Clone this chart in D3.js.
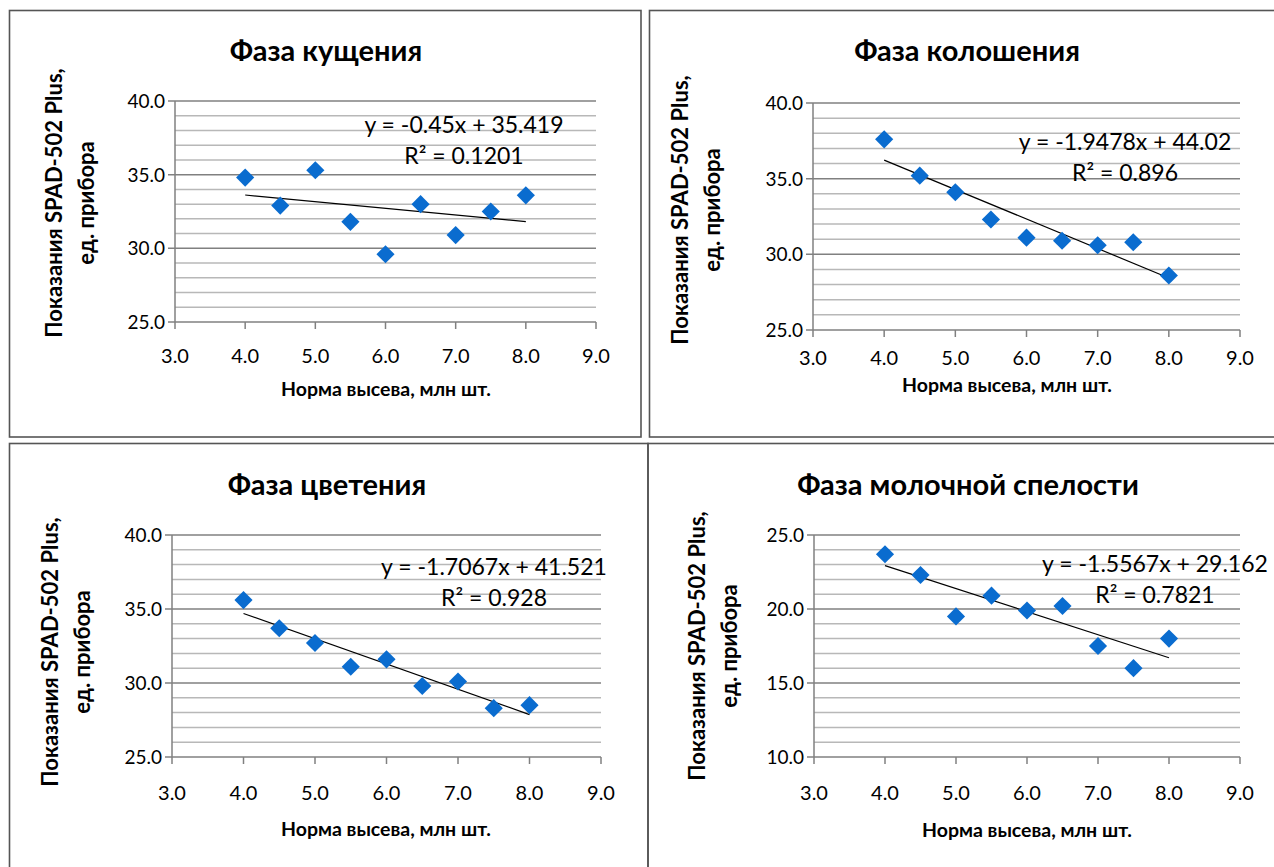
<!DOCTYPE html>
<html>
<head>
<meta charset="utf-8">
<script src="https://cdn.jsdelivr.net/npm/d3@7"></script>
<style>
  body { margin: 0; background: #fff; }
  text { font-family: Lato, "Open Sans", sans-serif; fill: #000; }
</style>
</head>
<body>
<div id="chart"></div>
<script>
const width = 1274
const height = 867

// данные
const rates = [4.0, 4.5, 5.0, 5.5, 6.0, 6.5, 7.0, 7.5, 8.0]
const tillering = [34.8, 32.9, 35.3, 31.8, 29.6, 33.0, 30.9, 32.5, 33.6]
const heading = [37.6, 35.2, 34.1, 32.3, 31.1, 30.9, 30.6, 30.8, 28.6]
const flowering = [35.6, 33.7, 32.7, 31.1, 31.6, 29.8, 30.1, 28.3, 28.5]
const milkRipeness = [23.7, 22.3, 19.5, 20.9, 19.9, 20.2, 17.5, 16.0, 18.0]

const titles = ["Фаза кущения", "Фаза колошения", "Фаза цветения", "Фаза молочной спелости"]
const slopes = [-0.45, -1.9478, -1.7067, -1.5567]
const intercepts = [35.419, 44.02, 41.521, 29.162]
const equations = ["y = -0.45x + 35.419", "y = -1.9478x + 44.02", "y = -1.7067x + 41.521", "y = -1.5567x + 29.162"]
const r2Labels = ["R² = 0.1201", "R² = 0.896", "R² = 0.928", "R² = 0.7821"]
const yDomains = [[25, 40], [25, 40], [25, 40], [10, 25]]
const xTicks = [3, 4, 5, 6, 7, 8, 9]

const yLabel1 = "Показания SPAD-502 Plus,"
const yLabel2 = "ед. прибора"
const xLabel = "Норма высева, млн шт."

const series = [tillering, heading, flowering, milkRipeness]

// раскладка панелей
const panels = [
  {box: [9.5, 10.5, 631.5, 426.5], x0: 175, x1: 596, yTop: 101, yBot: 322, tickDy: 41, titleX: 326, titleY: 61,
   eqX: 464, eqY: 133, ylX: 54, ylY: 203, xlX: 386, xlY: 396},
  {box: [649.5, 10.5, 640, 426.5], x0: 813, x1: 1240, yTop: 103, yBot: 330, tickDy: 35, titleX: 967, titleY: 61,
   eqX: 1125, eqY: 150, ylX: 680, ylY: 210, xlX: 1007, xlY: 392},
  {box: [9.5, 443.5, 638.5, 440], x0: 172, x1: 601, yTop: 535, yBot: 757, tickDy: 43, titleX: 327, titleY: 495,
   eqX: 494, eqY: 575, ylX: 50, ylY: 652, xlX: 386, xlY: 836},
  {box: [648, 443.5, 640, 440], x0: 814, x1: 1240, yTop: 535, yBot: 757, tickDy: 43, titleX: 968, titleY: 495,
   eqX: 1155, eqY: 572, ylX: 697, ylY: 646, xlX: 1027, xlY: 837}
]

const svg = d3.select("div#chart").append("svg").attr("width", width).attr("height", height)

panels.forEach((p, i) => {
  const g = svg.append("g").attr("class", "panel")

  g.append("rect")
    .attr("x", p.box[0]).attr("y", p.box[1])
    .attr("width", p.box[2]).attr("height", p.box[3])
    .attr("fill", "none").attr("stroke", "#555").attr("stroke-width", 1.6)

  const x = d3.scaleLinear().domain([3, 9]).range([p.x0, p.x1])
  const y = d3.scaleLinear().domain(yDomains[i]).range([p.yBot, p.yTop])

  // сетка
  const minor = d3.range(yDomains[i][0], yDomains[i][1] + 0.5, 1).filter(v => v % 5 !== 0)
  const major = d3.range(yDomains[i][0], yDomains[i][1] + 0.5, 5)

  g.append("g").selectAll("line").data(minor).enter().append("line")
    .attr("x1", p.x0).attr("x2", p.x1)
    .attr("y1", d => y(d)).attr("y2", d => y(d))
    .attr("stroke", "#b8b8b8").attr("stroke-width", 1.5)

  g.append("g").selectAll("line").data(major).enter().append("line")
    .attr("x1", p.x0 - 7).attr("x2", p.x1)
    .attr("y1", d => y(d)).attr("y2", d => y(d))
    .attr("stroke", "#808080").attr("stroke-width", 1.5)

  // оси
  g.append("line")
    .attr("x1", p.x0).attr("x2", p.x0).attr("y1", p.yTop).attr("y2", p.yBot)
    .attr("stroke", "#808080").attr("stroke-width", 1.5)

  g.append("g").selectAll("line").data(xTicks).enter().append("line")
    .attr("x1", d => x(d)).attr("x2", d => x(d))
    .attr("y1", p.yBot).attr("y2", p.yBot + 7)
    .attr("stroke", "#808080").attr("stroke-width", 1.5)

  g.append("g").selectAll("text").data(xTicks).enter().append("text")
    .attr("x", d => x(d)).attr("y", p.yBot + p.tickDy)
    .attr("text-anchor", "middle").attr("font-size", 20)
    .text(d => d3.format(".1f")(d))

  g.append("g").selectAll("text").data(major).enter().append("text")
    .attr("x", p.x0 - 10).attr("y", d => y(d) + 7)
    .attr("text-anchor", "end").attr("font-size", 19)
    .text(d => d3.format(".1f")(d))

  // линия тренда
  g.append("line")
    .attr("x1", x(4)).attr("y1", y(slopes[i] * 4 + intercepts[i]))
    .attr("x2", x(8)).attr("y2", y(slopes[i] * 8 + intercepts[i]))
    .attr("stroke", "#000").attr("stroke-width", 1.2)

  // точки
  g.append("g").selectAll("path").data(rates).enter().append("path")
    .attr("d", d3.symbol().type(d3.symbolSquare).size(165))
    .attr("transform", (d, j) => `translate(${x(d)}, ${y(series[i][j])}) rotate(45)`)
    .attr("fill", "#0a6ccf")

  // подписи
  g.append("text").attr("x", p.titleX).attr("y", p.titleY)
    .attr("text-anchor", "middle").attr("font-size", 29).attr("font-weight", "bold")
    .text(titles[i])

  g.append("text").attr("x", p.eqX).attr("y", p.eqY)
    .attr("text-anchor", "middle").attr("font-size", 23)
    .text(equations[i])

  g.append("text").attr("x", p.eqX).attr("y", p.eqY + 31)
    .attr("text-anchor", "middle").attr("font-size", 23)
    .text(r2Labels[i])

  const yl = g.append("text").attr("transform", `translate(${p.ylX}, ${p.ylY}) rotate(-90)`)
    .attr("text-anchor", "middle").attr("font-size", 22).attr("font-weight", "bold")
  yl.append("tspan").attr("x", 0).attr("dy", "0.35em").text(yLabel1)
  yl.append("tspan").attr("x", 0).attr("dy", "1.45em").text(yLabel2)

  g.append("text").attr("x", p.xlX).attr("y", p.xlY)
    .attr("text-anchor", "middle").attr("font-size", 19.5).attr("font-weight", "bold")
    .text(xLabel)
})
</script>
</body>
</html>
